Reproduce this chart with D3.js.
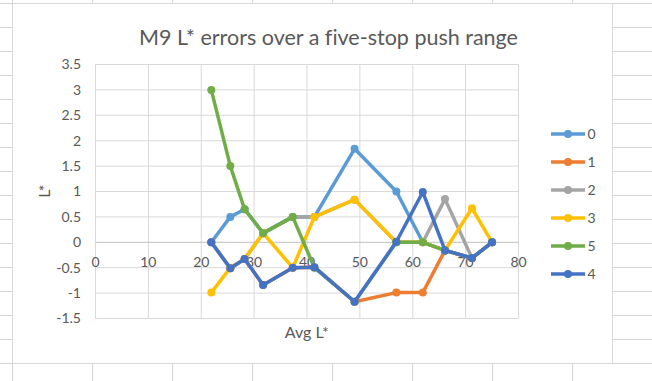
<!DOCTYPE html>
<html>
<head>
<meta charset="utf-8">
<script src="https://cdn.jsdelivr.net/npm/d3@7"></script>
<style>
  body { margin: 0; background: #fff; }
  text { font-family: Lato, "Open Sans", sans-serif; fill: #595959; font-variant-ligatures: none; }
</style>
</head>
<body>
<div id="chart"></div>
<script>
// data
var avgL = [21.9, 25.5, 28.2, 31.7, 37.3, 41.4, 49.0, 56.9, 61.9, 66.1, 71.2, 75.0];
var seriesNames = ["0", "1", "2", "3", "5", "4"];
var push0 = [0, 0.5, 0.65, 0.18, 0.5, 0.5, 1.84, 1.0, 0, -0.16, -0.31, 0];
var push1 = [0, -0.51, -0.33, -0.84, -0.5, -0.49, -1.17, -0.99, -0.99, -0.16, -0.31, 0];
var push2 = [0, -0.51, -0.33, 0.18, 0.5, 0.5, 0.84, 0, 0, 0.85, -0.31, 0];
var push3 = [-0.99, -0.5, -0.33, 0.18, -0.5, 0.5, 0.84, 0, 0, -0.16, 0.67, 0];
var push5 = [3.0, 1.5, 0.65, 0.18, 0.5, -0.5, -1.17, 0, 0, -0.16, -0.31, 0];
var push4 = [0, -0.51, -0.33, -0.84, -0.5, -0.49, -1.17, 0.01, 0.99, -0.16, -0.31, 0];
var xTicks = [0, 10, 20, 30, 40, 50, 60, 70, 80];
var yTicks = [-1.5, -1, -0.5, 0, 0.5, 1, 1.5, 2, 2.5, 3, 3.5];

var seriesValues = [push0, push1, push2, push3, push5, push4];
var colors = ["#5B9BD5", "#ED7D31", "#A5A5A5", "#FFC000", "#70AD47", "#4472C4"];

var W = 652, H = 381;
var svg = d3.select("#chart")
  .append("svg")
    .attr("width", W)
    .attr("height", H);

// spreadsheet cells behind the chart
var cellX = d3.range(12.5, W, 80);
var cellY = d3.range(3.5, H, 24);
svg.selectAll(".cellv")
  .data(cellX)
  .enter()
  .append("line")
    .attr("x1", function(d) { return d; })
    .attr("x2", function(d) { return d; })
    .attr("y1", 0)
    .attr("y2", H)
    .attr("stroke", "#d4d4d4");
svg.selectAll(".cellh")
  .data(cellY)
  .enter()
  .append("line")
    .attr("x1", 0)
    .attr("x2", W)
    .attr("y1", function(d) { return d; })
    .attr("y2", function(d) { return d; })
    .attr("stroke", "#d4d4d4");

// chart area
svg.append("rect")
  .attr("x", 12.5)
  .attr("y", 3.5)
  .attr("width", 600)
  .attr("height", 360)
  .attr("fill", "#fff")
  .attr("stroke", "#d9d9d9");

// scales
var x = d3.scaleLinear().domain([0, 80]).range([95.5, 518.5]);
var y = d3.scaleLinear().domain([-1.5, 3.5]).range([318.5, 64.5]);

// gridlines
svg.selectAll(".gx")
  .data(xTicks)
  .enter()
  .append("line")
    .attr("x1", function(d) { return x(d); })
    .attr("x2", function(d) { return x(d); })
    .attr("y1", y(3.5))
    .attr("y2", y(-1.5))
    .attr("stroke", "#d9d9d9");
svg.selectAll(".gy")
  .data(yTicks)
  .enter()
  .append("line")
    .attr("x1", x(0))
    .attr("x2", x(80))
    .attr("y1", function(d) { return y(d); })
    .attr("y2", function(d) { return y(d); })
    .attr("stroke", function(d) { return d === 0 ? "#bfbfbf" : "#d9d9d9"; });

// y tick labels
svg.selectAll(".ty")
  .data(yTicks)
  .enter()
  .append("text")
    .attr("x", 81)
    .attr("y", function(d) { return y(d); })
    .attr("dy", "0.35em")
    .attr("text-anchor", "end")
    .style("font-size", "14px")
    .text(function(d) { return d; });

// x tick labels sit under the zero line
svg.selectAll(".tx")
  .data(xTicks)
  .enter()
  .append("text")
    .attr("x", function(d) { return x(d); })
    .attr("y", y(0) + 19.5)
    .attr("dy", "0.35em")
    .attr("text-anchor", "middle")
    .style("font-size", "14px")
    .text(function(d) { return d; });

// series
var line = d3.line()
  .x(function(d, i) { return x(avgL[i]); })
  .y(function(d) { return y(d); });

seriesValues.forEach(function(vals, k) {
  svg.append("path")
    .datum(vals)
    .attr("d", line)
    .attr("fill", "none")
    .attr("stroke", colors[k])
    .attr("stroke-width", 3.5)
    .attr("stroke-linejoin", "round");
  svg.selectAll(".m" + k)
    .data(vals)
    .enter()
    .append("circle")
      .attr("cx", function(d, i) { return x(avgL[i]); })
      .attr("cy", function(d) { return y(d); })
      .attr("r", 4)
      .attr("fill", colors[k]);
});

// titles
svg.append("text")
  .attr("x", 328.5)
  .attr("y", 37)
  .attr("dy", "0.35em")
  .attr("text-anchor", "middle")
  .style("font-size", "21.5px")
  .text("M9 L* errors over a five-stop push range");

svg.append("text")
  .attr("x", 306.8)
  .attr("y", 332)
  .attr("dy", "0.35em")
  .attr("text-anchor", "middle")
  .style("font-size", "16px")
  .text("Avg L*");

svg.append("text")
  .attr("transform", "translate(44,191)rotate(-90)")
  .attr("dy", "0.35em")
  .attr("text-anchor", "middle")
  .style("font-size", "16px")
  .text("L*");

// legend
var legend = svg.selectAll(".leg")
  .data(seriesNames)
  .enter()
  .append("g")
    .attr("transform", function(d, i) { return "translate(551," + (134 + i * 28) + ")"; });
legend.append("line")
  .attr("x1", 0)
  .attr("x2", 34)
  .attr("stroke", function(d, i) { return colors[i]; })
  .attr("stroke-width", 3.5);
legend.append("circle")
  .attr("cx", 17)
  .attr("r", 4)
  .attr("fill", function(d, i) { return colors[i]; });
legend.append("text")
  .attr("x", 36.5)
  .attr("dy", "0.35em")
  .style("font-size", "14px")
  .text(function(d) { return d; });
</script>
</body>
</html>
